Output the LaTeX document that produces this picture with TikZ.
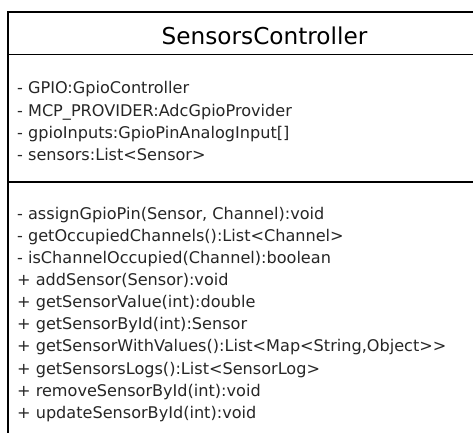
\documentclass[tikz,border=0pt]{standalone}
\usepackage{fontspec}
\setmainfont{DejaVu Sans}
\definecolor{inkgray}{HTML}{262626}
\begin{document}
\begin{tikzpicture}[x=1pt,y=1pt,
  frame/.style={draw=black,line width=2pt},
  rule/.style={draw=black,line width=1.3pt},
  member/.style={anchor=base west,inner sep=0pt,text=inkgray,
    font=\fontsize{16.1}{22}\selectfont},
  classname/.style={anchor=base,inner sep=0pt,text=black,
    font=\fontsize{23.2}{27}\selectfont}]
\useasboundingbox (0,0) rectangle (473,432);
\clip (0,0) rectangle (473,432);
\fill[white] (0,0) rectangle (473,432);

% class box: outline and compartment rules
\draw[frame] (560,419.5) -- (7.5,419.5) -- (7.5,-20);
\draw[rule] (7.5,377.3) -- (560,377.3);
\draw[frame] (7.5,250.5) -- (560,250.5);

% class name
\node[classname] (name) at (264.5,387) {SensorsController};

% attributes
\node[member] (a1) at (17,338) {- GPIO:GpioController};
\node[member] (a2) at (17,316) {- MCP\_PROVIDER:AdcGpioProvider};
\node[member] (a3) at (17,294) {- gpioInputs:GpioPinAnalogInput[]};
\node[member] (a4) at (17,272) {- sensors:List<Sensor>};

% operations
\node[member] (m1)  at (17,213)   {- assignGpioPin(Sensor, Channel):void};
\node[member] (m2)  at (17,191)   {- getOccupiedChannels():List<Channel>};
\node[member] (m3)  at (17,168.7) {- isChannelOccupied(Channel):boolean};
\node[member] (m4)  at (17,146.5) {+ addSensor(Sensor):void};
\node[member] (m5)  at (17,124.5) {+ getSensorValue(int):double};
\node[member] (m6)  at (17,102.3) {+ getSensorById(int):Sensor};
\node[member] (m7)  at (17,80.1)  {+ getSensorWithValues():List<Map<String,Object>{}>};
\node[member] (m8)  at (17,57.9)  {+ getSensorsLogs():List<SensorLog>};
\node[member] (m9)  at (17,35.7)  {+ removeSensorById(int):void};
\node[member] (m10) at (17,13.5)  {+ updateSensorById(int):void};
\end{tikzpicture}
\end{document}
